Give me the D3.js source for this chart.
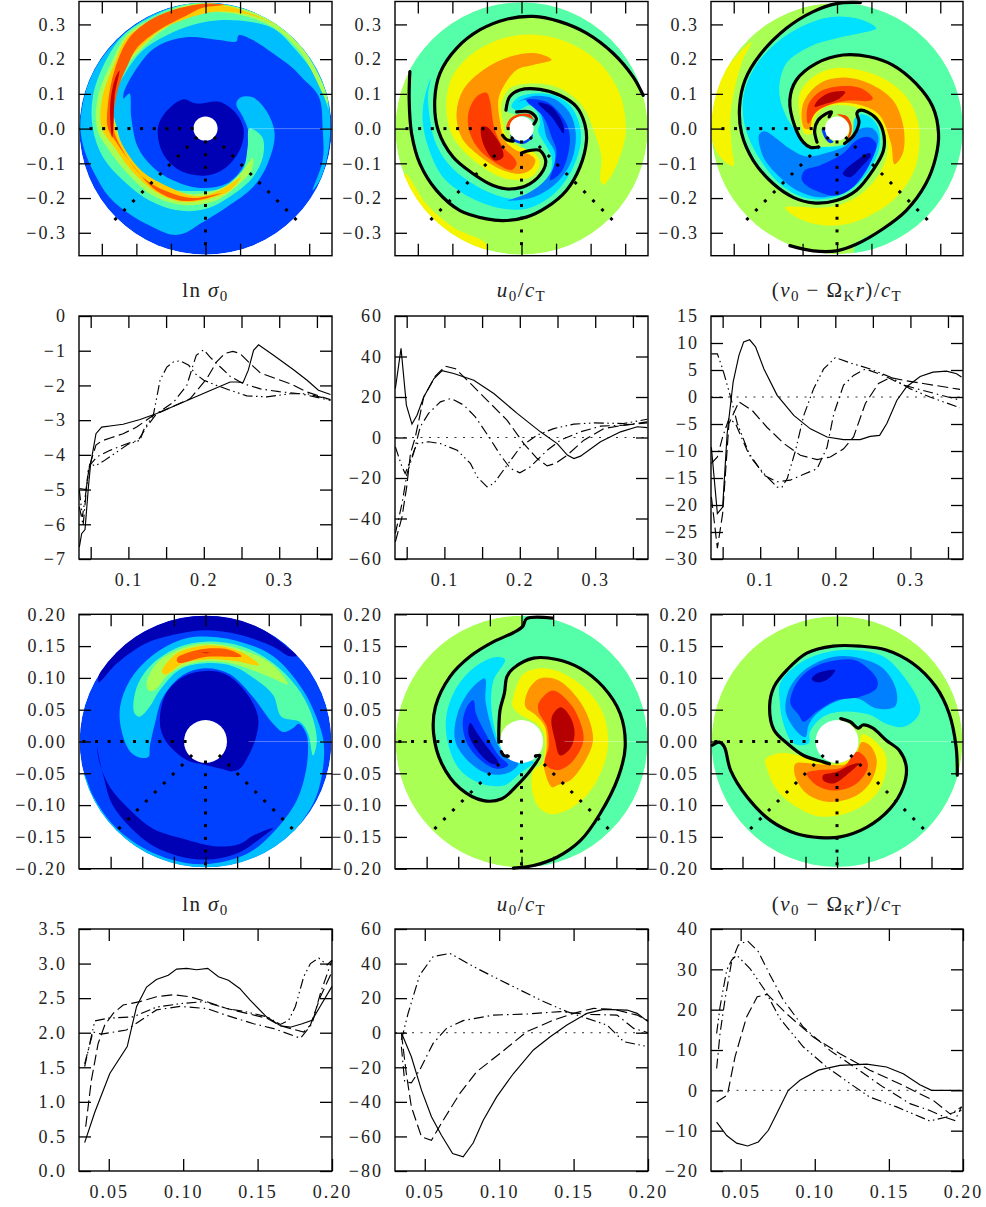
<!DOCTYPE html>
<html><head><meta charset="utf-8">
<script src="https://cdn.jsdelivr.net/npm/d3@7"></script>
<style>
html,body{margin:0;padding:0;background:#fff}
svg text{font-family:"Liberation Serif",serif;fill:#222}
</style></head><body>
<svg id="c" width="986" height="1207"></svg>
<script>
// ---------- contour regions, x,y in 1/1000 of the axis unit ----------
const a1Core=[[-138,0],[-119,43],[-66,84],[-27,72],[40,77],[89,43],[110,0],[103,-53],[60,-111],[2,-135],[-75,-120],[-123,-72]];
const a1Light=[[-56,-299],[-94,-306],[-152,-284],[-220,-246],[-278,-198],[-321,-130],[-350,-63],[-362,0],[-355,72],[-335,140],[-297,207],[-239,270],[-172,318],[-94,350],[0,363],[98,350],[195,308],[272,251],[320,188],[354,92],[361,0],[354,-72],[335,-140],[310,-178],[339,-92],[339,0],[328,92],[281,145],[253,174],[195,217],[137,255],[96,269],[89,251],[40,255],[-56,263],[-133,241],[-176,205],[-234,111],[-237,87],[-220,101],[-215,34],[-196,-53],[-152,-111],[-94,-149],[-17,-171],[60,-159],[108,-111],[127,-53],[122,0],[108,34],[89,72],[103,90],[137,90],[175,53],[200,-14],[180,-101],[137,-169],[60,-227],[-17,-275]];
const a1Green=[[127,0],[164,-24],[166,-82],[137,-140],[89,-183],[2,-231],[-75,-236],[-162,-207],[-239,-149],[-297,-82],[-326,0],[-326,92],[-287,198],[-231,275],[-150,325],[-70,355],[0,362],[98,347],[195,306],[281,227],[339,120],[357,53],[320,149],[253,236],[195,289],[98,311],[2,308],[-66,289],[-125,262],[-185,222],[-232,160],[-263,92],[-263,0],[-244,-53],[-201,-130],[-123,-170],[-27,-180],[60,-169],[108,-120],[122,-53]];
const a1Lime=[[137,-84],[133,-120],[98,-159],[31,-207],[-66,-220],[-152,-193],[-220,-135],[-282,-58],[-314,0],[-311,92],[-273,188],[-227,270],[-146,320],[-68,352],[0,361],[98,348],[195,307],[281,231],[339,130],[355,72],[277,217],[195,292],[98,328],[2,335],[-66,318],[-128,280],[-189,225],[-235,172],[-271,92],[-256,0],[-239,-53],[-191,-130],[-114,-174],[-27,-188],[60,-164],[108,-120]];
const a1Gold=[[103,-140],[69,-180],[2,-204],[-66,-211],[-143,-183],[-210,-125],[-268,-48],[-300,0],[-300,82],[-263,188],[-224,266],[-143,313],[-66,347],[0,360],[98,344],[204,299],[137,325],[89,334],[21,336],[-66,313],[-130,283],[-193,230],[-240,176],[-266,92],[-260,0],[-234,-58],[-181,-125],[-104,-169],[-27,-195],[40,-178]];
const a1Red=[[45,-186],[-17,-205],[-75,-207],[-143,-178],[-210,-106],[-258,-39],[-282,0],[-282,72],[-263,169],[-220,262],[-156,315],[-75,347],[-8,359],[55,357],[-8,348],[-56,325],[-133,285],[-197,234],[-225,183],[-254,111],[-266,0],[-239,-63],[-181,-140],[-114,-180],[-37,-200]];
const a1Deep=[[-249,167],[-263,140],[-276,63],[-270,-26],[-266,14],[-263,92]];

const a2Arm1=[[-323,164],[-325,82],[-318,-14],[-294,-101],[-246,-178],[-178,-236],[-101,-260],[-53,-265],[14,-255],[72,-227],[130,-178],[169,-111],[188,-34],[183,14],[159,63],[111,96],[53,113],[-5,111],[-34,92],[-45,53]];
const a2Arm2=[[352,96],[323,149],[265,217],[188,275],[111,308],[34,323],[-43,315],[-121,284],[-188,231],[-236,159],[-251,82],[-241,-5],[-198,-82],[-140,-130],[-82,-164],[-34,-174],[24,-159],[63,-120],[70,-92],[53,-63],[24,-63],[0,-70]];
const a2HookA=[[-14,48],[24,48],[43,29],[36,13]];
const a2HookB=[[-55,-19],[-43,-32],[-24,-36]];
const a2Rim=[[400,120],[300,320],[0,420],[-300,320],[-400,180]];
const a2Hole=[[0,30],[0,-30]];
const a2Corner=[[-337,-130],[-275,-217],[-198,-284],[-101,-333],[-101,-375],[-342,-227]];
const a2Yellow=[[236,-162],[260,-135],[294,-53],[302,5],[284,101],[227,188],[140,246],[43,270],[-53,260],[-140,217],[-198,154],[-217,82],[-207,-5],[-169,-63],[-111,-111],[-53,-142],[-5,-147],[34,-135],[53,-101],[39,-72],[10,-58],[-24,-43],[-48,-14],[-53,14],[-58,43],[-58,72],[-34,116],[34,130],[111,116],[178,63],[212,-14],[231,-82],[228,-149]];
const a2Orange=[[87,198],[43,217],[-34,207],[-111,169],[-169,111],[-188,43],[-174,-24],[-130,-72],[-63,-116],[-5,-130],[29,-116],[40,-90],[22,-74],[-14,-63],[-48,-34],[-61,14],[-67,82],[-53,120],[-14,169],[34,183]];
const a2Red=[[-101,103],[-130,92],[-154,43],[-149,-14],[-120,-63],[-63,-106],[-29,-119],[-14,-101],[-24,-82],[-53,-53],[-77,-5],[-92,82]];
const a2Deep=[[-116,5],[-111,-43],[-77,-92],[-53,-82],[-58,-53],[-82,-14],[-101,5]];
const a2Cyan=[[-262,145],[-280,92],[-286,24],[-270,-53],[-227,-140],[-149,-198],[-72,-227],[14,-231],[82,-198],[140,-130],[171,-43],[167,14],[140,67],[92,96],[34,101],[-14,87],[-29,63],[-10,53],[24,67],[48,43],[53,14],[48,-7],[67,-43],[87,-82],[82,-130],[43,-178],[-14,-202],[-82,-188],[-149,-154],[-212,-101],[-251,-34],[-267,43],[-270,101]];
const a2Blue=[[-39,-207],[34,-198],[101,-157],[145,-92],[157,-14],[138,48],[92,87],[34,94],[-10,77],[14,82],[48,58],[63,19],[72,-24],[96,-67],[92,-111],[58,-159],[14,-188]];
const a2Navy=[[14,82],[72,77],[125,24],[140,-24],[130,-92],[111,-130],[82,-149],[96,-101],[101,-63],[87,-24],[63,34]];
const a2Ink=[[48,74],[87,63],[120,14],[122,-14],[87,34]];
const a2RingW=[[-44,0],[-36,25],[-10,41],[25,41],[36,22],[30,28],[0,36],[-28,22],[-36,0]];
const a2RingC=[[-33,-18],[-20,-38],[10,-43],[33,-22],[30,-15],[8,-36],[-15,-32]];

const a3ArmA=[[68,363],[-2,360],[-69,337],[-147,289],[-224,212],[-267,140],[-283,63],[-277,-14],[-243,-92],[-185,-159],[-127,-198],[-69,-214],[-2,-207],[56,-178],[104,-120],[135,-63],[133,-5],[109,34],[70,53],[58,45],[64,19],[49,-19],[22,-43]];
const a3ArmB=[[-137,-337],[-69,-352],[-2,-352],[56,-333],[133,-289],[201,-236],[258,-159],[287,-82],[295,-14],[278,63],[229,130],[162,183],[94,207],[17,212],[-60,188],[-118,140],[-137,82],[-122,5],[-98,-39],[-77,-54],[-55,-53]];
const a3HookD=[[-58,-39],[-65,-5],[-55,24],[-31,43],[-16,48],[-23,34]];
const a3Rim=[[200,340],[400,100],[350,-250],[56,-400]];
const a3Cyan=[[114,289],[66,315],[-21,321],[-98,296],[-175,248],[-238,178],[-272,92],[-267,5],[-228,-82],[-166,-159],[-98,-198],[-31,-202],[37,-178],[94,-120],[123,-53],[119,5],[94,34],[70,41],[51,29],[46,-10],[27,-43],[-12,-53],[-40,-53],[-79,-53],[-118,-10],[-151,43],[-168,111],[-147,188],[-79,236],[-2,260],[70,275]];
const a3Blue=[[-226,-16],[-214,-82],[-166,-140],[-113,-180],[-50,-198],[17,-183],[70,-140],[109,-72],[120,-24],[104,0],[70,0],[51,-14],[27,-48],[-31,-70],[-89,-80],[-137,-58],[-175,-29],[-209,-8]];
const a3Navy=[[-103,-145],[-89,-164],[-50,-183],[-2,-193],[46,-169],[90,-111],[114,-43],[90,-24],[56,-34],[17,-72],[-50,-106],[-94,-120]];
const a3Ink=[[17,-130],[37,-140],[70,-111],[99,-77],[94,-70],[56,-92]];
const a3Yellow=[[-151,-227],[-118,-255],[-50,-277],[17,-277],[85,-255],[162,-207],[220,-130],[239,-53],[234,24],[201,92],[143,140],[66,169],[-12,173],[-69,149],[-108,101],[-108,34],[-94,-14],[-74,-14],[-69,14],[-60,39],[-31,63],[56,61],[123,14],[147,-53],[123,-130],[70,-188],[8,-219],[-50,-228],[-108,-225]];
const a3Orange=[[167,-103],[191,-72],[193,5],[162,82],[94,130],[17,147],[-50,130],[-94,82],[-103,34],[-94,0],[-79,0],[-69,39],[-40,61],[8,74],[70,67],[123,39],[157,-43]];
const a3Red=[[104,87],[70,116],[8,122],[-50,106],[-84,67],[-84,14],[-60,48],[-31,65],[27,80],[94,80]];
const a3Deep=[[24,106],[-21,103],[-55,82],[-65,63],[-31,72],[8,87]];
const a3Patch=[[-248,248],[-281,222],[-335,149],[-362,53],[-362,-34],[-339,-82],[-301,-108],[-306,-53],[-310,34],[-296,121],[-272,202]];
const a3RingW=[[0,41],[28,36],[42,12],[40,-18],[26,-36],[36,-10],[35,10],[20,30]];
const a3RingC=[[-44,0],[-36,-26],[-20,-42],[-10,-38],[-28,-24],[-36,0]];

const b1TopCrescent=[[-169,93],[-167,110],[-135,155],[-88,181],[-35,197],[0,199],[49,194],[96,173],[128,149],[144,135],[133,134],[107,149],[54,168],[0,175],[-41,170],[-93,155],[-140,123]];
const b1LowCrescent=[[-172,-8],[-161,-56],[-148,-98],[-119,-135],[-83,-164],[-35,-182],[12,-185],[54,-174],[86,-153],[107,-136],[75,-148],[54,-161],[17,-165],[-35,-153],[-83,-137],[-119,-108],[-151,-72],[-167,-35]];
const b1Core=[[-72,39],[-62,76],[-35,102],[0,111],[33,105],[65,76],[83,39],[80,7],[67,-24],[54,-43],[41,-47],[25,-43],[0,-37],[-30,-29],[-56,-8],[-69,13]];
const b1Light=[[-119,-16],[-104,-25],[-90,-24],[-88,-8],[-80,28],[-67,70],[-35,105],[0,115],[38,106],[75,70],[107,28],[123,15],[138,21],[148,28],[159,13],[162,-3],[159,-45],[144,-93],[107,-143],[65,-177],[0,-193],[-56,-185],[-109,-161],[-148,-129],[-177,-87],[-193,-50],[-196,-52],[-172,-114],[-125,-166],[-67,-195],[0,-202],[65,-193],[123,-161],[154,-124],[175,-87],[186,-40],[187,-3],[180,26],[154,81],[107,134],[54,157],[0,165],[-35,161],[-83,136],[-119,97],[-135,55],[-133,18]];
const b1Green=[[-114,60],[-112,44],[-104,39],[-88,55],[-72,81],[-41,113],[0,123],[44,118],[80,97],[107,73],[120,39],[149,31],[162,13],[170,-22],[176,2],[167,44],[144,86],[107,123],[59,149],[0,157],[-41,149],[-83,123],[-106,92]];
const b1Lime=[[-93,92],[-90,80],[-80,81],[-59,105],[-35,118],[0,126],[44,122],[80,110],[107,99],[130,90],[107,120],[59,144],[0,154],[-41,145],[-77,123]];
const b1Gold=[[-69,110],[-64,105],[-35,123],[0,129],[44,127],[85,120],[65,136],[38,147],[0,151],[-41,141],[-59,126]];
const b1Red=[[-45,131],[-43,124],[0,133],[57,134],[38,144],[0,146],[-27,140]];
const b1Deep=[[-9,139],[11,139],[0,140]];

const b2Outer=[[-13,-199],[19,-195],[56,-182],[93,-156],[124,-114],[153,-56],[164,-8],[156,44],[129,86],[93,115],[56,129],[19,131],[-13,115],[-23,102],[-27,76],[-34,49],[-36,-1]];
const b2Inner=[[49,194],[8,193],[2,181],[-13,171],[-44,157],[-81,134],[-113,102],[-136,55],[-139,13],[-126,-35],[-97,-74],[-60,-93],[-31,-90],[-7,-69],[16,-43],[29,-22],[22,-23]];
const b2Hook=[[-32,-16],[-28,-22],[-21,-23]];
const b2Rim=[[0,215],[110,200],[215,110],[230,0],[200,-130],[80,-220],[-13,-225]];
const b2Hole=[[-15,-18]];
const b2Cyan=[[-26,129],[-39,133],[-70,120],[-102,86],[-119,39],[-115,-8],[-97,-45],[-65,-66],[-28,-69],[-2,-50],[19,-32],[-13,-29],[-31,-14],[-42,18],[-48,60],[-44,97]];
const b2Blue=[[-58,99],[-81,81],[-101,44],[-105,2],[-86,-29],[-55,-50],[-23,-50],[-5,-35],[-23,-24],[-36,-8],[-49,28],[-57,65]];
const b2Navy=[[-76,65],[-86,55],[-93,28],[-86,-3],[-65,-29],[-39,-43],[-21,-37],[-36,-22],[-57,13],[-72,44]];
const b2Ink=[[-81,29],[-84,13],[-70,-14],[-47,-35],[-36,-35],[-55,-8],[-70,13]];
const b2Yellow=[[3,106],[-13,70],[-14,55],[-2,42],[24,28],[35,13],[37,-14],[32,-35],[19,-45],[16,-72],[27,-103],[45,-114],[72,-108],[103,-85],[127,-45],[137,-3],[129,44],[103,81],[66,107],[35,115]];
const b2Orange=[[29,99],[11,81],[6,55],[22,42],[37,23],[40,-3],[37,-29],[35,-37],[48,-72],[56,-69],[77,-61],[98,-35],[113,2],[103,44],[82,76],[56,97]];
const b2Red=[[49,80],[27,60],[27,47],[40,23],[43,-8],[37,-35],[56,-45],[77,-35],[98,2],[87,44],[72,65]];
const b2Deep=[[62,54],[48,39],[53,2],[61,-22],[77,-11],[84,13],[77,39]];

const b3Arc1=[[191,-53],[189,-8],[178,44],[157,86],[120,123],[78,144],[36,150],[-6,150],[-48,139],[-79,113],[-100,86],[-107,55],[-100,18],[-79,-3],[-53,-22],[-22,-32],[-12,-35]];
const b3Arc2=[[-198,-6],[-187,-1],[-179,-8],[-169,-45],[-143,-87],[-106,-124],[-64,-145],[-27,-151],[5,-150],[47,-135],[84,-106],[105,-72],[110,-40],[99,-14],[78,2],[57,21],[41,26],[34,21],[21,31],[6,36]];
const b3Rim=[[-230,-50],[-190,-150],[-100,-220],[50,-230],[170,-170],[220,-53]];
const b3Yellow=[[39,11],[52,7],[76,-19],[78,-45],[63,-82],[21,-111],[-27,-118],[-64,-103],[-95,-77],[-112,-40],[-114,-29],[-95,-19],[-69,-20],[-37,-29],[-16,-35],[2,-35],[26,-24],[36,-3]];
const b3Orange=[[39,-1],[52,-6],[63,-29],[55,-61],[31,-85],[-11,-95],[-48,-82],[-66,-56],[-66,-35],[-37,-35],[-11,-37],[15,-35],[31,-19]];
const b3Red=[[31,-16],[44,-24],[49,-40],[31,-66],[-1,-77],[-32,-69],[-48,-50],[-27,-45],[10,-40]];
const b3Deep=[[35,-34],[15,-53],[-6,-66],[-22,-61],[-22,-53],[-1,-48],[21,-37]];
const b3Cyan=[[-91,65],[-90,92],[-64,120],[-22,139],[26,144],[73,134],[110,97],[132,55],[128,39],[105,23],[78,28],[52,42],[10,47],[-22,39],[-43,15],[-45,-3],[-69,-3],[-85,28]];
const b3Blue=[[-82,55],[-74,86],[-48,115],[-6,133],[36,131],[73,115],[94,81],[92,55],[63,52],[31,68],[-1,63],[-32,44],[-45,26],[-50,7],[-61,13],[-79,39]];
const b3Navy=[[-74,60],[-64,92],[-40,115],[-6,127],[31,127],[63,99],[63,84],[36,70],[-1,65],[-32,47],[-53,31],[-61,42]];
const b3Ink=[[-40,98],[-32,107],[-3,112],[-16,97],[-32,93]];

// ---------- radial sample positions (dotted spokes) ----------
const spokeAngles=[180,225,270,315];
const spokeR1=[.0385,.0751,.1117,.1483,.1849,.2215,.2581,.2947,.3313,.3679];
const spokeR3=[.0323,.0523,.0723,.0923,.1123,.1323,.1523,.1723,.1923];

// ---------- profile curves, [radius, value] ----------
const p1a=[[.035,-6.65],[.038,-6.27],[.0425,-6.15],[.047,-4.92],[.05,-4.25],[.057,-3.39],[.0646,-3.2],[.078,-3.16],[.093,-3.12],[.1155,-2.98],[.1376,-2.81],[.1686,-2.52],[.204,-2.19],[.235,-1.9],[.244,-1.9],[.252,-1.92],[.259,-1.56],[.266,-.99],[.2726,-.83],[.2925,-1.13],[.319,-1.55],[.337,-1.85],[.352,-2.14],[.368,-2.26]];
const p1b=[[.035,-4.97],[.0438,-5],[.048,-4.35],[.057,-3.72],[.0646,-3.6],[.078,-3.5],[.093,-3.39],[.111,-3.2],[.133,-2.86],[.1597,-2.6],[.182,-2.38],[.204,-1.8],[.217,-1.32],[.228,-1.08],[.2385,-1.02],[.248,-1.08],[.2615,-1.37],[.275,-1.64],[.2925,-1.78],[.3146,-1.95],[.337,-2.19],[.368,-2.41]];
const p1c=[[.035,-5.5],[.04,-6.03],[.047,-4.35],[.058,-4.06],[.0757,-3.87],[.098,-3.68],[.113,-3.58],[.124,-3.2],[.1376,-2.81],[.16,-2.48],[.1774,-2],[.19,-1.13],[.2,-.97],[.208,-1.18],[.222,-1.47],[.235,-1.74],[.2525,-1.95],[.275,-2.1],[.3,-2.18],[.328,-2.24],[.368,-2.43]];
const p1d=[[.035,-5.02],[.039,-5.79],[.049,-4.25],[.056,-4.32],[.067,-4.18],[.0845,-3.92],[.1,-3.69],[.1155,-3.58],[.12,-3.29],[.133,-2.86],[.142,-1.85],[.151,-1.47],[.16,-1.32],[.1686,-1.29],[.18,-1.42],[.1885,-1.66],[.2,-1.85],[.217,-2],[.235,-2.14],[.257,-2.3],[.2835,-2.33],[.3146,-2.24],[.337,-2.24],[.368,-2.41]];

const p2a=[[.035,24.2],[.0425,44],[.0496,16],[.057,6.6],[.0637,11],[.0726,20],[.086,29],[.097,33],[.1124,31.6],[.139,28.3],[.1655,21.7],[.1965,11.9],[.2274,2.8],[.2496,-3],[.263,-8.7],[.2717,-10.4],[.2805,-9.2],[.307,-2.1],[.3336,2.8],[.3558,5.3],[.369,4.9]];
const p2b=[[.035,-51.5],[.0438,-39.2],[.05,-24.4],[.055,-7.9],[.0615,.3],[.0726,20],[.088,30.3],[.1013,35.2],[.1146,34],[.1345,26.7],[.161,16.8],[.183,8.6],[.2053,-3],[.223,-10.4],[.2363,-14],[.2473,-12.8],[.263,-8.7],[.285,-1.3],[.3115,4.4],[.338,6.1],[.369,7.2]];
const p2c=[[.035,-47.4],[.0438,-32.6],[.0505,-17.8],[.059,-7.9],[.068,5.3],[.079,11.9],[.0947,17.6],[.109,19.3],[.1257,16],[.141,10.2],[.159,.3],[.1743,-8.7],[.1876,-15.3],[.2,-17.4],[.214,-14.5],[.2363,-6.3],[.254,-1.3],[.2805,2.8],[.307,5.6],[.338,6.1],[.369,7.7]];
const p2d=[[.035,-4.6],[.0438,-14.5],[.048,-17.8],[.055,-11.2],[.0637,-3],[.079,-2.1],[.0947,-3],[.117,-6.3],[.1345,-12.8],[.1434,-19.4],[.1566,-24.4],[.1655,-22.7],[.183,-13.7],[.201,-4.6],[.223,1.2],[.245,4.4],[.2717,6.6],[.298,7.2],[.338,6.9],[.369,9]];

const p3a=[[.035,-9.3],[.043,-21.6],[.05,-20.4],[.056,-6.8],[.064,2.8],[.0717,7.7],[.078,10.2],[.086,10.6],[.0938,9.3],[.105,5.2],[.1226,.3],[.1447,-3.4],[.1668,-5.9],[.189,-7.4],[.211,-7.9],[.233,-7.9],[.2465,-7.3],[.259,-7.1],[.2686,-4.9],[.282,-.6],[.295,1.9],[.313,3.8],[.33,4.6],[.348,4.8],[.3615,4.3],[.368,3.7]];
const p3b=[[.035,-18.5],[.043,-28],[.05,-21.6],[.0584,-4.9],[.0717,-.9],[.0894,-2.5],[.109,-5.6],[.1314,-8.6],[.1535,-10.8],[.1757,-11.6],[.1934,-11.1],[.211,-9.6],[.2243,-7.4],[.24,-1.2],[.2575,2.5],[.273,3.6],[.2907,3.1],[.317,2.5],[.366,1.4]];
const p3c=[[.035,-12.3],[.043,-11.1],[.05,-7.4],[.0584,-4],[.067,-4.9],[.0827,-9.9],[.105,-14.5],[.1226,-15.7],[.14,-15.4],[.158,-14.3],[.1757,-13.3],[.189,-9.3],[.198,-3.1],[.211,2.2],[.2243,4],[.24,5.2],[.264,4],[.2907,2.2],[.317,1.2],[.364,-.5]];
const p3d=[[.035,8],[.043,8],[.05,5.2],[.0606,0],[.0695,-4.9],[.087,-11.1],[.105,-14.2],[.1226,-16.7],[.129,-16.7],[.136,-15.1],[.147,-9.9],[.158,-3.4],[.171,1.5],[.1845,5.2],[.2,7.3],[.22,6.3],[.2465,5.2],[.273,3.7],[.3,1.5],[.326,0],[.366,-2]];

const p4a=[[.0338,.41],[.0406,.85],[.0507,1.41],[.0624,1.8],[.0687,2.38],[.0754,2.66],[.082,2.77],[.09,2.83],[.0956,2.92],[.1024,2.93],[.109,2.91],[.1165,2.93],[.1237,2.81],[.1304,2.76],[.138,2.64],[.145,2.47],[.156,2.23],[.1653,2.1],[.172,2.08],[.18,2.13],[.1866,2.18],[.192,2.38],[.2,2.67]];
const p4b=[[.0345,.64],[.0383,1.31],[.0428,1.84],[.0473,2.11],[.053,2.28],[.0597,2.4],[.0709,2.45],[.0821,2.52],[.0934,2.55],[.1046,2.52],[.1158,2.45],[.1293,2.35],[.1428,2.28],[.1563,2.21],[.1653,2.1],[.181,2.01],[.1855,2.11],[.1922,2.52],[.2,2.88]];
const p4c=[[.0338,1.55],[.0394,2.01],[.045,1.98],[.0619,2.04],[.0709,2.17],[.0821,2.33],[.0979,2.38],[.1158,2.35],[.1293,2.25],[.1473,2.13],[.1608,2.06],[.1788,1.92],[.1866,2.13],[.1922,2.57],[.2,3.05]];
const p4d=[[.0338,1.51],[.0406,2.17],[.0496,2.21],[.0664,2.23],[.0821,2.37],[.0979,2.42],[.1136,2.45],[.1293,2.35],[.1428,2.3],[.1563,2.23],[.1653,2.12],[.1709,2.18],[.1754,2.38],[.181,2.81],[.1855,3],[.1911,3.08],[.1967,2.98],[.2,3.05]];

const p5a=[[.0343,0],[.041,-13.9],[.0478,-33.2],[.0545,-48.6],[.0612,-59.3],[.0687,-69.9],[.0758,-71.8],[.0826,-63.7],[.0893,-50.6],[.0983,-37.1],[.1096,-23.6],[.123,-10],[.1343,-2.3],[.1455,4.4],[.159,11.2],[.1702,13.5],[.186,13.1],[.1927,11.2],[.2,6.4]];
const p5b=[[.0343,-.4],[.0376,-23.6],[.041,-42.9],[.0478,-60.2],[.0545,-62.2],[.0624,-50.6],[.0736,-35.1],[.0848,-22.6],[.1006,-12],[.1185,.6],[.1365,7.3],[.15,11.2],[.1635,14.1],[.177,13.5],[.1927,10.2],[.2,7]];
const p5c=[[.0343,-8.1],[.0365,-28.4],[.041,-29],[.0466,-21.6],[.0556,-6.2],[.0646,2.5],[.0758,7],[.0961,10.2],[.1185,10.8],[.141,12.2],[.159,10.6],[.1792,10.2],[.1904,2.5],[.2,0]];
const p5d=[[.0343,-4.2],[.0388,11.2],[.0466,33.4],[.0556,44],[.0669,45.9],[.0848,37.3],[.1073,27.6],[.1298,18],[.1455,12.2],[.159,8.3],[.1725,4.4],[.1837,-5.2],[.2,-8.1]];

const p6a=[[.0338,-7.9],[.0406,-11.2],[.0473,-13.1],[.0547,-13.8],[.0619,-12.8],[.0687,-9.9],[.0743,-5.8],[.0821,0],[.09,2.5],[.1024,5],[.117,6.2],[.135,6.5],[.1484,5.8],[.1597,4.1],[.1709,1.4],[.1788,0],[.199,0]];
const p6b=[[.0338,-2.9],[.041,-1.2],[.0462,8.3],[.054,18.2],[.0612,23.2],[.068,23.8],[.081,19],[.099,13.2],[.117,9.1],[.1372,5],[.1597,1.2],[.18,-2.5],[.1911,-5.8],[.199,-5]];
const p6c=[[.0338,5.4],[.0361,14.1],[.0394,22.4],[.0439,31.9],[.0484,36],[.0545,37.1],[.0619,34.4],[.0698,28.6],[.0788,22.4],[.0922,15.7],[.1102,9.9],[.1282,5.4],[.1462,.8],[.1642,-3.3],[.1776,-5],[.1889,-6.8],[.1945,-7.5],[.199,-4.1]];
const p6d=[[.0338,14.1],[.0361,20.7],[.0406,29.8],[.0439,32.3],[.0473,33.5],[.0563,30.2],[.0664,24.8],[.0765,17.8],[.0922,10.8],[.108,5.8],[.1237,1.7],[.1372,-1.7],[.1552,-4.1],[.1776,-7.6],[.1889,-6.6],[.199,-4.1]];

// ---------- tick values & titles ----------
const contourTicksOuter=[-.3,-.2,-.1,0,.1,.2,.3];
const contourTicksInnerX=[-.15,-.1,-.05,0,.05,.1,.15];
const contourTicksInnerY=[-.2,-.15,-.1,-.05,0,.05,.1,.15,.2];
const profileXOuter=[.05,.1,.15,.2,.25,.3,.35];
const profileXOuterLabelled=[.1,.2,.3];
const profileXInner=[.05,.1,.15,.2];
const yTicks2=[d3.range(-7,1),d3.range(-60,61,20),d3.range(-30,16,5)];
const yTicks4=[[0,.5,1,1.5,2,2.5,3,3.5],d3.range(-80,61,20),d3.range(-20,41,10)];
const yDomains2=[[-7,0],[-60,60],[-30,15]];
const yDomains4=[[0,3.5],[-80,60],[-20,40]];

// ---------- palette ----------
const cInk="#0000b4",cBlue="#0040ff",cMid="#0080ff",cLight="#00bfff",cCyan="#00e0ff",cTeal="#55ffaa",cLime="#aaff55",cYellow="#f5f500",cGold="#ffcc00",cOrange="#ff9500",cFlame="#ff5a00",cRed="#ff4000",cDeep="#b40000";

const colX=[[79,332],[395,648],[711,963]];
const svg=d3.select("#c");
const defs=svg.append("defs");
const fontSize=18, spacing="2px";
const minus=s=>s.replace("-","\u2212");

function frame(g,x,y,xt,yt,xfmt,yfmt,yPadBottom){
  const [xa,xb]=x.range(), [yb,ya]=y.range();
  const style=s=>{s.select(".domain").remove();
    s.selectAll("line").attr("stroke","#000").attr("stroke-width",1.3);
    s.selectAll("text").attr("font-size",fontSize).attr("fill","#222").style("letter-spacing",spacing).attr("font-family",'"Liberation Serif",serif');};
  g.append("g").attr("transform",`translate(${xa},0)`).call(d3.axisLeft(y).tickValues(yt).tickSize(-12).tickSizeOuter(0).tickPadding(12).tickFormat(yfmt)).call(style);
  g.append("g").attr("transform",`translate(${xb},0)`).call(d3.axisRight(y).tickValues(yt).tickSize(-12).tickSizeOuter(0).tickFormat("")).call(style);
  g.append("g").attr("transform",`translate(0,${yb})`).call(d3.axisBottom(x).tickValues(xt).tickSize(-12).tickSizeOuter(0).tickPadding(yPadBottom).tickFormat(xfmt)).call(style);
  g.append("g").attr("transform",`translate(0,${ya})`).call(d3.axisTop(x).tickValues(xt).tickSize(-12).tickSizeOuter(0).tickFormat("")).call(style);
  g.append("rect").attr("x",xa).attr("y",ya).attr("width",xb-xa).attr("height",yb-ya).attr("fill","none").attr("stroke","#000").attr("stroke-width",1.4);
}

function contourPanel(id,col,yr,lim,diskR,holeR,base,layers,curves,spokeR,xt,yt,yfmt){
  const x=d3.scaleLinear().domain([-lim,lim]).range(colX[col]);
  const y=d3.scaleLinear().domain([-lim,lim]).range([yr[1],yr[0]]);
  const g=svg.append("g");
  const s=x(1)-x(0);
  defs.append("clipPath").attr("id",id).append("circle").attr("cx",x(0)).attr("cy",y(0)).attr("r",diskR*s);
  const body=g.append("g").attr("clip-path",`url(#${id})`);
  body.append("circle").attr("cx",x(0)).attr("cy",y(0)).attr("r",diskR*s).attr("fill",base);
  const area=d3.line().x(p=>x(p[0]/1000)).y(p=>y(p[1]/1000)).curve(d3.curveCatmullRomClosed.alpha(.5));
  layers.forEach(([pts,col])=>body.append("path").attr("d",area(pts)).attr("fill",col));
  // seam along the positive x axis
  body.append("line").attr("x1",x(.125*lim/.366)).attr("x2",x(diskR)).attr("y1",y(0)).attr("y2",y(0)).attr("stroke","#fff").attr("stroke-opacity",.4).attr("stroke-width",.8);
  g.append("circle").attr("cx",x(0)).attr("cy",y(0)).attr("r",holeR*s).attr("fill","#fff");
  // dotted spokes
  spokeAngles.forEach(a=>{
    spokeR.filter(r=>a%90?true:r<=lim*.97).forEach(r=>{
      const t=a*Math.PI/180;
      g.append("rect").attr("x",-1.5).attr("y",-1.5).attr("width",3).attr("height",3).attr("fill","#000")
       .attr("transform",`translate(${x(r*Math.cos(t))},${y(r*Math.sin(t))}) rotate(${a%90?45:0})`);
    });
  });
  const line=d3.line().x(p=>x(p[0]/1000)).y(p=>y(p[1]/1000)).curve(d3.curveCatmullRom.alpha(.5));
  curves.forEach(c=>g.append("path").attr("d",line(c)).attr("fill","none").attr("stroke","#000").attr("stroke-width",3.2).attr("stroke-linecap","round").attr("stroke-linejoin","round"));
  frame(g,x,y,xt,yt,()=>"",yfmt,0);
}

const f1=d=>minus(d3.format(".1f")(d));
const f2=d=>minus(d3.format(".2f")(d));

const a2Teal=[...a2Arm1,...a2Hole,...a2Arm2.slice().reverse(),...a2Rim];
const a3Teal=[...a3ArmB.slice(3),...a3ArmA.slice().reverse(),...a3Rim];
// teal of the lower middle panel: rim, outer spiral inward, across the hole, inner spiral outward
const b2Region=[...b2Rim,...b2Outer,...b2Hole,...b2Inner.slice(2).reverse()];
const b3Region=[...b3Arc1,...b3Arc2.slice().reverse(),...b3Rim];

contourPanel("ca1",0,[1.5,255.7],.366,.365,.035,cBlue,
  [[a1Light,cLight],[a1Green,cTeal],[a1Lime,cLime],[a1Gold,cGold],[a1Red,cFlame],[a1Deep,"#c80000"],[a1Core,cInk]],
  [],spokeR1,contourTicksOuter,contourTicksOuter,f1);
contourPanel("ca2",1,[1.5,255.7],.366,.365,.035,cLime,
  [[a2Corner,cYellow],[a2Teal,cTeal],[a2Yellow,cYellow],[a2Orange,cOrange],[a2Red,cRed],[a2Deep,cDeep],[a2Cyan,cCyan],[a2Blue,cMid],[a2Navy,"#0030ff"],[a2Ink,"#0000a8"],[a2RingW,cRed],[a2RingC,cBlue]],
  [a2Arm1,a2Arm2,a2HookA,a2HookB],spokeR1,contourTicksOuter,contourTicksOuter,f1);
contourPanel("ca3",2,[1.5,255.7],.366,.365,.035,cLime,
  [[a3Patch,cYellow],[a3Teal,cTeal],[a3Cyan,cCyan],[a3Blue,cMid],[a3Navy,"#0030ff"],[a3Ink,"#0000a8"],[a3Yellow,cYellow],[a3Orange,cOrange],[a3Red,cRed],[a3Deep,cDeep],[a3RingW,cRed],[a3RingC,cBlue]],
  [a3ArmA,a3ArmB,a3HookD],spokeR1,contourTicksOuter,contourTicksOuter,f1);
contourPanel("cb1",0,[614.3,868.7],.2,.199,.034,cBlue,
  [[b1Light,cLight],[b1Green,cTeal],[b1Lime,cLime],[b1Gold,cGold],[b1Red,cFlame],[b1Deep,"#c00000"],[b1TopCrescent,cInk],[b1LowCrescent,cInk],[b1Core,cInk]],
  [],spokeR3,contourTicksInnerX,contourTicksInnerY,f2);
contourPanel("cb2",1,[614.3,868.7],.2,.199,.034,cLime,
  [[b2Region,cTeal],[b2Cyan,cCyan],[b2Blue,cMid],[b2Navy,"#0030ff"],[b2Ink,"#0000a8"],[b2Yellow,cYellow],[b2Orange,cOrange],[b2Red,cRed],[b2Deep,cDeep]],
  [b2Outer,b2Inner,b2Hook],spokeR3,contourTicksInnerX,contourTicksInnerY,f2);
contourPanel("cb3",2,[614.3,868.7],.2,.199,.034,cLime,
  [[b3Region,cTeal],[b3Cyan,cCyan],[b3Blue,cMid],[b3Navy,"#0030ff"],[b3Ink,"#0000a8"],[b3Yellow,cYellow],[b3Orange,cOrange],[b3Red,cRed],[b3Deep,cDeep]],
  [b3Arc1,b3Arc2],spokeR3,contourTicksInnerX,contourTicksInnerY,f2);

const dashes=[null,"11,4.5","10,4,1.5,4","10,3.5,1.5,3.5,1.5,3.5"];
function profilePanel(col,yr,xDom,yDom,series,zero,xt,xLabelled,xfmt,yt,yfmt,pad){
  const x=d3.scaleLinear().domain(xDom).range(colX[col]);
  const y=d3.scaleLinear().domain(yDom).range([yr[1],yr[0]]);
  const g=svg.append("g");
  if(zero) g.append("line").attr("x1",x.range()[0]).attr("x2",x.range()[1]).attr("y1",y(0)).attr("y2",y(0)).attr("stroke","#000").attr("stroke-width",.8).attr("stroke-dasharray","2,6.5");
  const line=d3.line().x(p=>x(p[0])).y(p=>y(p[1]));
  series.forEach((s,i)=>g.append("path").attr("d",line(s)).attr("fill","none").attr("stroke","#000").attr("stroke-width",1.15).attr("stroke-dasharray",dashes[i]));
  frame(g,x,y,xt,yt,d=>xLabelled.some(v=>Math.abs(v-d)<1e-6)?xfmt(d):"",yfmt,pad);
}
const fInt=d=>minus(String(d));
const yf2=[fInt,fInt,fInt];
const yf4=[f1,fInt,fInt];
[[p1a,p1b,p1c,p1d],[p2a,p2b,p2c,p2d],[p3a,p3b,p3c,p3d]].forEach((s,i)=>
  profilePanel(i,[316,559],[.0345,.37],yDomains2[i],s,i>0,profileXOuter,profileXOuterLabelled,f1,yTicks2[i],yf2[i],14));
[[p4a,p4b,p4c,p4d],[p5a,p5b,p5c,p5d],[p6a,p6b,p6c,p6d]].forEach((s,i)=>
  profilePanel(i,[929,1171],[.03,.2],yDomains4[i],s,i>0,profileXInner,profileXInner,f2,yTicks4[i],yf4[i],14));

// ---------- titles ----------
function title(cx,base,parts){
  const t=svg.append("text").attr("x",cx).attr("y",base).attr("text-anchor","middle").attr("font-size",21).style("letter-spacing","1.4px");
  parts.forEach(([s,it,sub])=>{
    const ts=t.append("tspan").text(s);
    if(it) ts.attr("font-style","italic");
    if(sub) ts.attr("font-size",15).attr("dy",4);
    else if(sub===false) ts.attr("dy",-4);
  });
}
[297,911].forEach(b=>{
  title((colX[0][0]+colX[0][1])/2,b,[["ln "],["\u03c3",1],["0",0,1]]);
  title((colX[1][0]+colX[1][1])/2,b,[["u",1],["0",0,1],["/",0,false],["c",1],["T",0,1]]);
  title((colX[2][0]+colX[2][1])/2,b,[["("],["v",1],["0",0,1],[" \u2212 \u03a9",0,false],["K",0,1],["r",1,false],[")/"],["c",1],["T",0,1]]);
});
</script></body></html>
